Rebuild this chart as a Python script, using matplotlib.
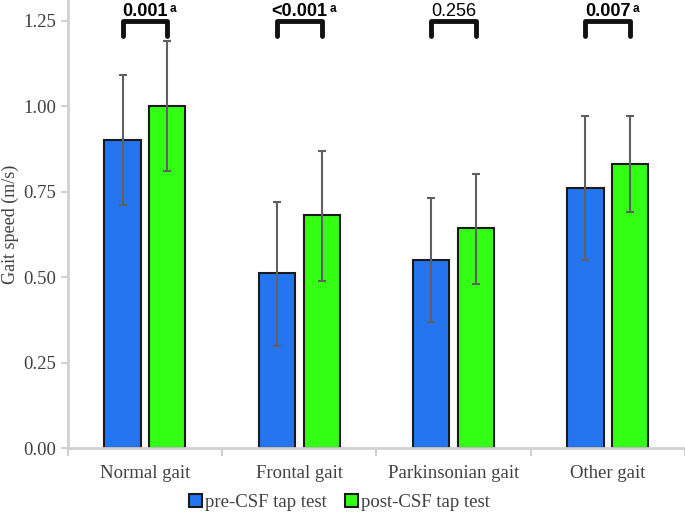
import matplotlib.pyplot as plt
import numpy as np

plt.rcParams['font.family'] = ['Liberation Serif', 'DejaVu Serif']

categories = ["Normal gait", "Frontal gait", "Parkinsonian gait", "Other gait"]
pre_mean = [0.90, 0.513, 0.55, 0.76]
pre_low = [0.71, 0.30, 0.37, 0.55]
pre_high = [1.09, 0.72, 0.73, 0.97]
post_mean = [1.00, 0.683, 0.643, 0.83]
post_low = [0.81, 0.49, 0.48, 0.69]
post_high = [1.19, 0.87, 0.80, 0.97]
p_values = ["0.001", "<0.001", "0.256", "0.007"]
p_signif = [True, True, False, True]

x = np.arange(len(categories))
w = 0.235
off = 0.145

fig = plt.figure(figsize=(6.85, 5.14), dpi=100)
ax = fig.add_axes([0.099, 0.128, 0.901, 0.872])

pre_err = [np.array(pre_mean) - np.array(pre_low), np.array(pre_high) - np.array(pre_mean)]
post_err = [np.array(post_mean) - np.array(post_low), np.array(post_high) - np.array(post_mean)]

ax.bar(x - off, pre_mean, w, color='#2574f0', edgecolor='#1a1a1a', linewidth=1.5,
       label='pre-CSF tap test', zorder=2)
ax.bar(x + off, post_mean, w, color='#33ff14', edgecolor='#1a1a1a', linewidth=1.5,
       label='post-CSF tap test', zorder=2)
ax.errorbar(x - off, pre_mean, yerr=pre_err, fmt='none', ecolor='#606060',
            elinewidth=1.5, capsize=3, capthick=1.5, zorder=3)
ax.errorbar(x + off, post_mean, yerr=post_err, fmt='none', ecolor='#606060',
            elinewidth=1.5, capsize=3, capthick=1.5, zorder=3)

# brackets with p-values
for i in range(len(categories)):
    xl, xr = x[i] - off, x[i] + off
    ax.plot([xl, xl, xr, xr], [1.205, 1.25, 1.25, 1.205], color='#111111', lw=3.5,
            solid_capstyle='round', solid_joinstyle='round', clip_on=False, zorder=4)
    t = ax.text(x[i], 1.262, p_values[i], ha='center', va='baseline', fontsize=13,
                fontweight='bold' if p_signif[i] else 'normal',
                family=['Liberation Sans'], clip_on=False)
    if p_signif[i]:
        ax.annotate('a', xy=(1.0, 1.0), xycoords=t, xytext=(1.5, 0),
                    textcoords='offset points', ha='left', va='top', fontsize=8.5,
                    fontweight='bold', family=['Liberation Sans'])

ax.set_xlim(-0.5, 3.5)
ax.set_ylim(0, 1.31)
ax.set_yticks([0, 0.25, 0.5, 0.75, 1.0, 1.25])
ax.set_yticklabels(['0.00', '0.25', '0.50', '0.75', '1.00', '1.25'])
ax.set_xticks(x)
ax.set_xticklabels(categories)
ax.set_xticks(np.arange(-0.5, 4.0, 1.0), minor=True)
ax.tick_params(axis='x', which='major', length=0, labelsize=13.5, pad=12, colors='#404040')
ax.tick_params(axis='x', which='minor', length=6, width=1.5, color='#d0d0d0')
ax.tick_params(axis='y', length=5, width=1.5, color='#d0d0d0', labelsize=13.5,
               labelcolor='#404040')
ax.set_ylabel('Gait speed (m/s)', fontsize=13, color='#404040')
ax.yaxis.set_label_coords(-0.079, 0.5)

for s in ['top', 'right']:
    ax.spines[s].set_visible(False)
for s in ['left', 'bottom']:
    ax.spines[s].set_color('#d0d0d0')
    ax.spines[s].set_linewidth(2)

leg = ax.legend(loc='lower center', bbox_to_anchor=(0.44, -0.178), ncol=2, frameon=False,
                fontsize=13.5, handlelength=0.7, handleheight=0.7, handletextpad=0.15,
                columnspacing=1.0)
for t in leg.get_texts():
    t.set_color('#404040')

fig.savefig('out.png', dpi=100)
